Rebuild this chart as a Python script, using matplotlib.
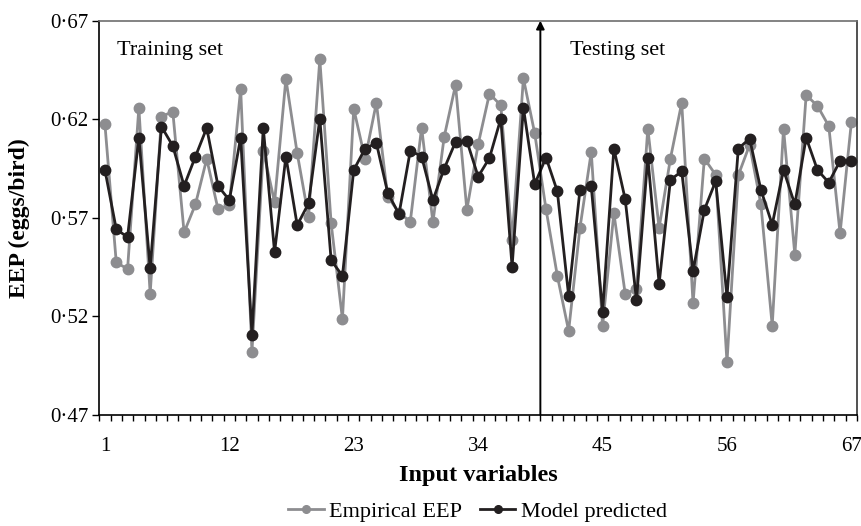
import matplotlib
matplotlib.use("Agg")
import matplotlib.pyplot as plt
from matplotlib.lines import Line2D
import numpy as np

plt.rcParams['font.family'] = ['Liberation Serif', 'DejaVu Serif']

input_vars = list(range(1, 68))

empirical = [
    0.6175, 0.5475, 0.5440, 0.6259, 0.5315, 0.6214, 0.6239, 0.5626, 0.5768, 0.5999,
    0.5744, 0.5764, 0.6355, 0.5021, 0.6040, 0.5780, 0.6405, 0.6028, 0.5705, 0.6505,
    0.5673, 0.5187, 0.6254, 0.5999, 0.6284, 0.5808, 0.5727, 0.5681, 0.6158, 0.5678,
    0.6112, 0.6374, 0.5741, 0.6073, 0.6330, 0.6271, 0.5587, 0.6408, 0.6129, 0.5744,
    0.5406, 0.5127, 0.5649, 0.6034, 0.5153, 0.5724, 0.5315, 0.5339, 0.6153, 0.5649,
    0.6001, 0.6284, 0.5266, 0.6001, 0.5918, 0.4967, 0.5916, 0.6070, 0.5768, 0.5153,
    0.6153, 0.5513, 0.6323, 0.6268, 0.6166, 0.5622, 0.6186,
]

model = [
    0.5943, 0.5643, 0.5602, 0.6107, 0.5445, 0.6163, 0.6065, 0.5862, 0.6011, 0.6156,
    0.5862, 0.5790, 0.6107, 0.5107, 0.6156, 0.5526, 0.6011, 0.5663, 0.5773, 0.6203,
    0.5485, 0.5406, 0.5943, 0.6051, 0.6080, 0.5828, 0.5719, 0.6041, 0.6011, 0.5790,
    0.5950, 0.6085, 0.6091, 0.5909, 0.6004, 0.6203, 0.5452, 0.6259, 0.5871, 0.6006,
    0.5835, 0.5305, 0.5842, 0.5860, 0.5224, 0.6051, 0.5795, 0.5283, 0.6006, 0.5366,
    0.5893, 0.5936, 0.5430, 0.5741, 0.5886, 0.5300, 0.6051, 0.6102, 0.5842, 0.5666,
    0.5943, 0.5768, 0.6107, 0.5943, 0.5879, 0.5989, 0.5989,
]

x_tick_labels = [1, 12, 23, 34, 45, 56, 67]
y_ticks = [0.47, 0.52, 0.57, 0.62, 0.67]
split_at = 39.5

gray = '#8d8d90'
black = '#231f20'

fig = plt.figure(figsize=(8.61, 5.26), dpi=100)
ax = fig.add_axes([0.1153, 0.211, 0.8801, 0.7496])

ax.plot(input_vars, empirical, color=gray, lw=2.0, marker='o', ms=7.5,
        mec=gray, mfc=gray, zorder=2, label='Empirical EEP')
ax.plot(input_vars, model, color=black, lw=2.0, marker='o', ms=7.5,
        mec=black, mfc=black, zorder=3, label='Model predicted')

ax.set_xlim(0.5, 67.5)
ax.set_ylim(0.47, 0.67)

ax.annotate('', xy=(split_at, 0.67), xytext=(split_at, 0.47),
            arrowprops=dict(arrowstyle='-|>', color='black', lw=1.4,
                            mutation_scale=12, shrinkA=0, shrinkB=0),
            zorder=4)

ax.text(2.05, 0.655, 'Training set', fontsize=16, va='center', ha='left')
ax.text(42.1, 0.655, 'Testing set', fontsize=16, va='center', ha='left')

ax.set_xticks(x_tick_labels)
ax.set_xticklabels([str(v) for v in x_tick_labels], fontsize=15)
ax.set_xticks(np.arange(0.5, 68, 1.0), minor=True)
ax.tick_params(axis='x', which='major', length=0, pad=16)
ax.tick_params(axis='x', which='minor', length=4, width=1, direction='out')

ax.set_yticks(y_ticks)
ax.set_yticklabels([f"{v:.2f}".replace('.', '\u00b7') for v in y_ticks], fontsize=15)
ax.tick_params(axis='y', which='major', length=5, width=1, direction='out', pad=3)

ax.set_xlabel('Input variables', fontsize=17.5, fontweight='bold', labelpad=6)
ax.set_ylabel('EEP (eggs/bird)', fontsize=17, fontweight='bold', labelpad=14)

for s in ['left', 'bottom']:
    ax.spines[s].set_color('black')
    ax.spines[s].set_linewidth(1.2)
ax.spines['top'].set_color('#6e6e6e')
ax.spines['top'].set_linewidth(1.2)
ax.spines['right'].set_color('#333333')
ax.spines['right'].set_linewidth(1.2)

handles = [
    Line2D([0], [0], color=gray, lw=2, marker='o', ms=5.5, mfc=gray, mec=gray),
    Line2D([0], [0], color=black, lw=2, marker='o', ms=5.5, mfc=black, mec=black),
]
fig.legend(handles, ['Empirical EEP', 'Model predicted'], loc='center left',
           bbox_to_anchor=(0.3345, 0.028), ncol=2, frameon=False, fontsize=16,
           handlelength=1.6, handletextpad=0.25, columnspacing=0.8,
           borderpad=0, borderaxespad=0)

fig.savefig('out.png', dpi=100)
